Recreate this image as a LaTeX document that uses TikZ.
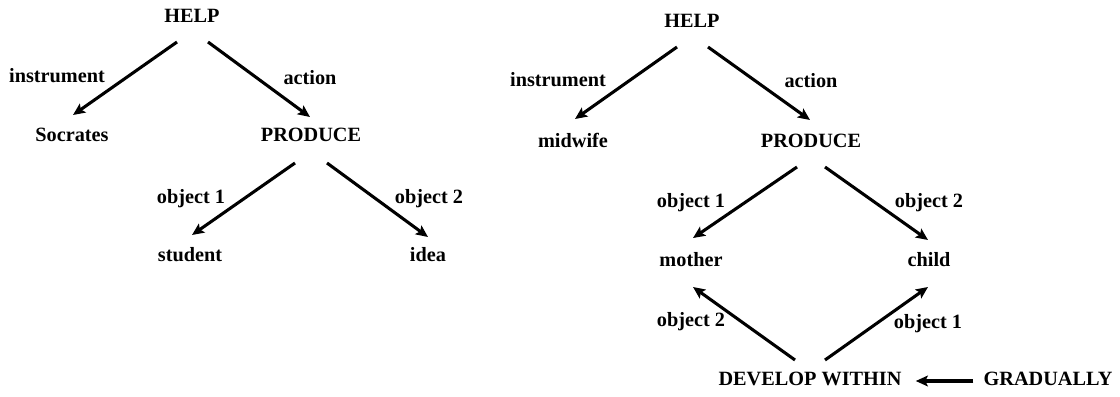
\documentclass[tikz,border=0pt]{standalone}
\usepackage{fontspec}
\setmainfont{Liberation Serif}
\usetikzlibrary{arrows.meta,calc}
\begin{document}
\begin{tikzpicture}[x=0.75pt,y=-0.75pt,
  word/.style={font=\fontsize{15.2}{18}\selectfont\bfseries, inner sep=0pt,
               text height=0.68em, text depth=0pt},
  arr/.style={line width=2.3pt, -{Stealth[length=9pt,width=8pt,inset=1.8pt]}}]
\useasboundingbox (0,0) rectangle (1120,396);

% ---- first tree: Socrates ----
\node[word] (h1)   at (192,18)  {HELP};
\node[word] (soc)  at (72,137)  {Socrates};
\node[word] (p1)   at (311,137) {PRODUCE};
\node[word] (stu)  at (190,257) {student};
\node[word] (idea) at (428,257) {idea};

\node[word] (l1a) at (57,78)   {instrument};
\node[word] (l1b) at (310,80)  {action};
\node[word] (l1c) at (191,199) {object 1};
\node[word] (l1d) at (429,199) {object 2};

\draw[arr] ($(h1)+(-15,24)$) -- ($(soc)+(1,-22)$);
\draw[arr] ($(h1)+(16,24)$)  -- ($(p1)+(-1,-20)$);
\draw[arr] ($(p1)+(-16,26)$) -- ($(stu)+(2,-22)$);
\draw[arr] ($(p1)+(16,26)$)  -- ($(idea)+(0,-20)$);

% ---- second tree: midwife ----
\node[word] (h2)   at (692,23)  {HELP};
\node[word] (mid)  at (573,143) {midwife};
\node[word] (p2)   at (811,143) {PRODUCE};
\node[word] (mot)  at (691,262) {mother};
\node[word] (chi)  at (929,262) {child};
\node[word] (dev)  at (810,381) {DEVELOP WITHIN};
\node[word] (grad) at (1048,381) {GRADUALLY};

\node[word] (l2a) at (558,82)  {instrument};
\node[word] (l2b) at (811,83)  {action};
\node[word] (l2c) at (691,203) {object 1};
\node[word] (l2d) at (929,203) {object 2};
\node[word] (l2e) at (691,322) {object 2};
\node[word] (l2f) at (928,324) {object 1};

\draw[arr] ($(h2)+(-15,24)$) -- ($(mid)+(2,-24)$);
\draw[arr] ($(h2)+(16,24)$)  -- ($(p2)+(-1,-23)$);
\draw[arr] ($(p2)+(-14,24)$) -- ($(mot)+(2,-24)$);
\draw[arr] ($(p2)+(14,24)$)  -- ($(chi)+(-1,-22)$);
\draw[arr] ($(dev)+(-15,-21)$) -- ($(mot)+(2,25)$);
\draw[arr] ($(dev)+(15,-21)$)  -- ($(chi)+(-1,25)$);
\draw[arr] ($(grad.west)+(-10,0)$) -- ($(dev.east)+(14,0)$);
\end{tikzpicture}
\end{document}
